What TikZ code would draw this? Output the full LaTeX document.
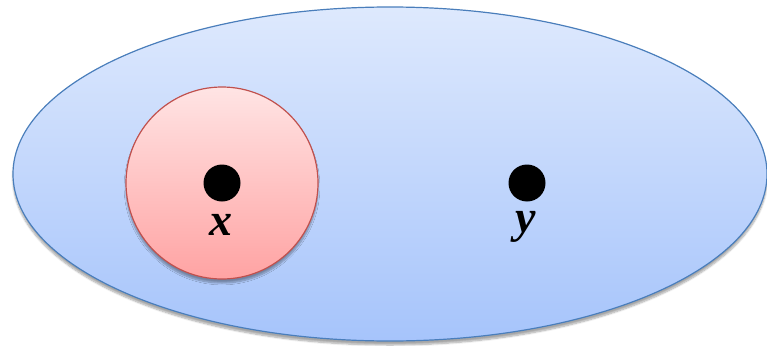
\documentclass[tikz,border=0pt]{standalone}
\usepackage{fontspec}
\setmainfont{Liberation Serif}
\usetikzlibrary{shadows.blur}
\definecolor{bluetop}{HTML}{DEE9FD}
\definecolor{bluebot}{HTML}{A6C4FB}
\definecolor{blueline}{HTML}{4A7EBB}
\definecolor{redtop}{HTML}{FFE4E4}
\definecolor{redbot}{HTML}{FFA3A3}
\definecolor{redline}{HTML}{C0504D}
\tikzset{
  setshape/.style={draw=blueline, line width=1.2pt, top color=bluetop, bottom color=bluebot,
    blur shadow={shadow xshift=0pt, shadow yshift=-4pt, shadow blur steps=8, shadow opacity=35}},
  subshape/.style={draw=redline, line width=1.2pt, top color=redtop, bottom color=redbot,
    blur shadow={shadow xshift=0pt, shadow yshift=-4pt, shadow blur steps=8, shadow opacity=35}},
  pointdot/.style={circle, fill=black, inner sep=0pt, minimum size=37pt},
  pointlabel/.style={font=\fontsize{46}{46}\selectfont\bfseries\itshape, inner sep=0pt}
}
\begin{document}
\begin{tikzpicture}[x=1pt,y=-1pt]
\useasboundingbox (0,0) rectangle (767,345);
\path[setshape] (390,174) ellipse [x radius=377, y radius=167];
\path[subshape] (222,183) circle [radius=96];
\node[pointdot] (px) at (222,183) {};
\node[pointdot] (py) at (527,183) {};
\node[pointlabel] (lx) at (221,225) {x};
\node[pointlabel] (ly) at (526,227) {y};
\end{tikzpicture}
\end{document}
